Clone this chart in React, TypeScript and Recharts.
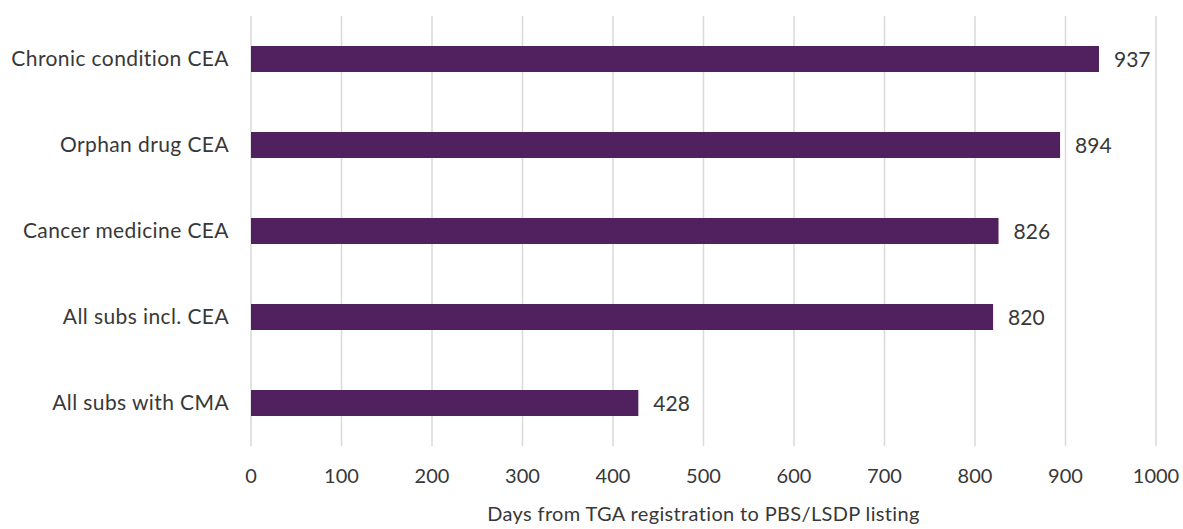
import React from 'react';
import { BarChart, Bar, XAxis, YAxis, CartesianGrid, LabelList, Label } from 'recharts';

const categories = [
  'Chronic condition CEA',
  'Orphan drug CEA',
  'Cancer medicine CEA',
  'All subs incl. CEA',
  'All subs with CMA',
];
const days = [937, 894, 826, 820, 428];
const xTicks = [0, 100, 200, 300, 400, 500, 600, 700, 800, 900, 1000];

const data = categories.map((name, i) => ({ name, days: days[i] }));

const textStyle = { fill: '#383838', fontSize: 20, fontFamily: 'Lato, sans-serif' };

export default function App() {
  return (
    <div style={{ position: 'absolute', left: 0, top: 0, width: 1183, height: 529, background: '#fff' }}>
      <BarChart
        width={1183}
        height={529}
        data={data}
        layout="vertical"
        margin={{ top: 16, right: 27, bottom: 0, left: 0 }}
        barCategoryGap="35%"
      >
        <CartesianGrid horizontal={false} stroke="#d9d9d9" strokeWidth={1.5} />
        <XAxis
          type="number"
          domain={[0, 1000]}
          ticks={xTicks}
          axisLine={false}
          tickLine={false}
          tickMargin={17}
          tick={textStyle}
          height={83}
        >
          <Label
            value="Days from TGA registration to PBS/LSDP listing"
            position="insideBottom"
            offset={8}
            style={{ ...textStyle, letterSpacing: 0.35 }}
          />
        </XAxis>
        <YAxis
          type="category"
          dataKey="name"
          width={251}
          axisLine={false}
          tickLine={false}
          tickMargin={16}
          tick={{ ...textStyle, fontSize: 21, letterSpacing: 0.4 }}
        />
        <Bar dataKey="days" fill="#50215e" isAnimationActive={false}>
          <LabelList dataKey="days" position="right" offset={15} style={{ ...textStyle, fontSize: 21 }} />
        </Bar>
      </BarChart>
    </div>
  );
}
